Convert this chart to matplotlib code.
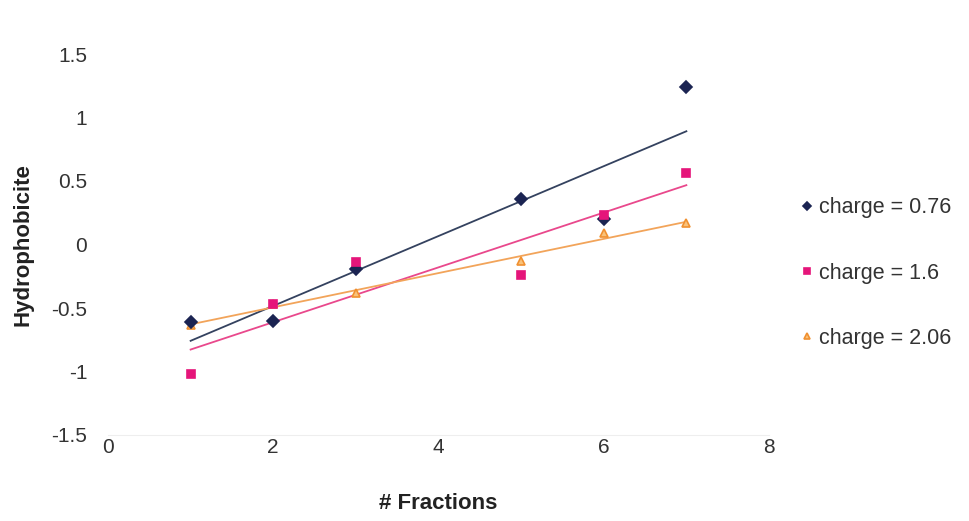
import matplotlib
matplotlib.use("Agg")
import matplotlib.pyplot as plt
import numpy as np

plt.rcParams['font.family'] = ['Liberation Sans', 'DejaVu Sans']

fractions = [1, 2, 3, 5, 6, 7]
charge_076 = [-0.61, -0.60, -0.19, 0.36, 0.20, 1.24]
charge_16 = [-1.02, -0.47, -0.14, -0.24, 0.23, 0.56]
charge_206 = [-0.63, -0.47, -0.38, -0.13, 0.09, 0.17]
labels = ["charge = 0.76", "charge = 1.6", "charge = 2.06"]
xticks = [0, 2, 4, 6, 8]
yticks = [-1.5, -1, -0.5, 0, 0.5, 1, 1.5]
ytick_labels = ["-1.5", "-1", "-0.5", "0", "0.5", "1", "1.5"]

fig = plt.figure(figsize=(9.69, 5.21), dpi=100)
ax = fig.add_axes([108/969, 1-435/521, 661/969, (435-54)/521])

x = np.array(fractions, dtype=float)
series = [
    (charge_076, 'D', '#1b2452', '#1b2452', '#34425f', 6.0, 3),
    (charge_16, 's', '#e5157a', '#e5157a', '#e9488c', 6.0, 4),
    (charge_206, '^', '#f9c27a', '#f09030', '#f2a45a', 6.0, 2),
]
handles = []
for (ys, mk, fc, ec, lc, ms, z), lab in zip(series, labels):
    ys = np.array(ys)
    k, b = np.polyfit(x, ys, 1)
    xx = np.array([x.min(), x.max()])
    ax.plot(xx, k*xx + b, color=lc, lw=1.3, zorder=1)
    h = ax.plot(x, ys, linestyle='none', marker=mk, markersize=ms,
                markerfacecolor=fc, markeredgecolor=ec, markeredgewidth=1.2,
                zorder=z, label=lab)[0]
    handles.append(h)

ax.set_xlim(0, 8)
ax.set_ylim(-1.5, 1.5)
ax.set_xticks(xticks)
ax.set_yticks(yticks)
ax.set_yticklabels(ytick_labels)
ax.tick_params(axis='both', length=0, labelsize=15, colors='#333333')
ax.tick_params(axis='y', pad=15)
ax.tick_params(axis='x', pad=2)
for s in ['top', 'right', 'left']:
    ax.spines[s].set_visible(False)
ax.spines['bottom'].set_color('#eeeeee')

ax.set_xlabel("# Fractions", fontsize=16, fontweight='bold', color='#222222', labelpad=26)
ax.set_ylabel("Hydrophobicite", fontsize=16, fontweight='bold', color='#222222', labelpad=13)

leg = fig.legend(handles=handles, labels=labels, loc='center left',
                 bbox_to_anchor=(802/969, 1-273/521), frameon=False,
                 fontsize=15.5, labelspacing=2.05, handlelength=0.5,
                 handletextpad=0.3, markerscale=0.75, borderpad=0,
                 borderaxespad=0)
for t in leg.get_texts():
    t.set_color('#333333')

fig.savefig("out.png", dpi=100)
